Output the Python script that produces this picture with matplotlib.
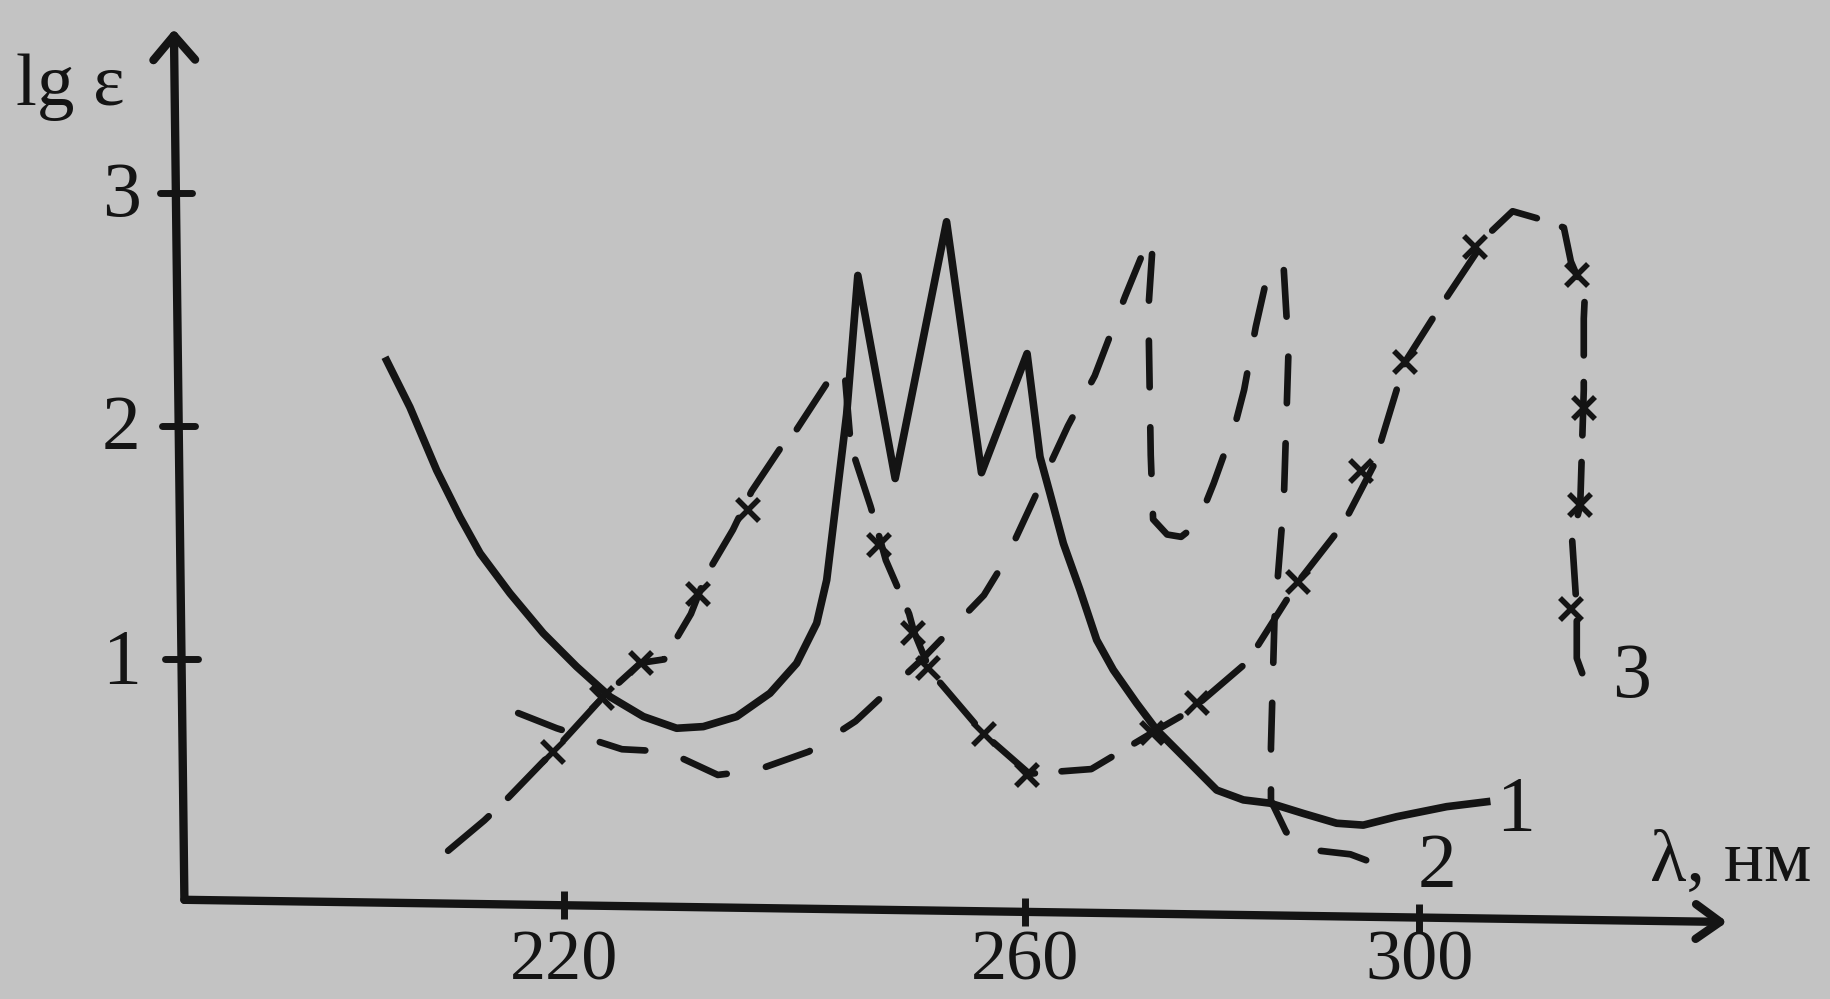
import numpy as np
import matplotlib.pyplot as plt

# кривая 1 (сплошная линия)
wl1 = [204.64, 206.66, 208.98, 211.0, 212.74, 215.34, 218.23, 221.12, 224.02, 226.91, 229.8, 232.11,
       235.01, 237.9, 240.21, 241.95, 242.82, 243.69, 244.55, 245.52,
       248.76, 253.22, 256.25, 260.24, 261.55, 262.57, 263.92, 265.61, 267.3, 268.98, 271.35, 273.38,
       276.43, 279.47, 282.17, 284.88, 288.25, 291.63, 294.33, 297.72, 302.78, 306.84]
lg1 = [2.28, 2.08, 1.81, 1.61, 1.455, 1.283, 1.112, 0.969, 0.84, 0.755, 0.705, 0.712,
       0.755, 0.855, 0.983, 1.155, 1.34, 1.697, 2.05, 2.645,
       1.775, 2.875, 1.80, 2.31, 1.868, 1.71, 1.497, 1.297, 1.083, 0.955, 0.812, 0.698,
       0.569, 0.44, 0.398, 0.384, 0.34, 0.298, 0.29, 0.326, 0.369, 0.39]

# кривая 2 (штриховая)
wl2 = [216.05, 219.39, 225.06, 229.01, 233.37, 236.71, 241.27, 245.32, 251.09, 256.46, 258.38, 264.38, 267.1,
       270.18, 272.07, 273.02, 272.54, 272.78, 273.02, 274.44, 275.86, 277.51, 279.17, 281.42, 282.25, 283.43,
       284.5, 285.33, 286.27, 286.75, 286.27, 285.33, 284.97, 284.97, 286.51, 288.88, 293.02, 296.8]
lg2 = [0.77, 0.705, 0.615, 0.605, 0.505, 0.525, 0.605, 0.735, 1.0, 1.275, 1.43, 2.0, 2.215,
       2.555, 2.75, 2.805, 2.50, 1.875, 1.60, 1.535, 1.525, 1.58, 1.755, 2.02, 2.155, 2.425,
       2.625, 2.70, 2.67, 2.325, 1.675, 1.175, 0.625, 0.395, 0.26, 0.185, 0.165, 0.105]

# кривая 3 (штрих с крестиками)
wl3 = [209.97, 213.11, 215.24, 218.08, 219.09, 223.34, 226.68, 228.71, 231.04, 232.35, 234.68, 236.3,
       238.94, 239.95, 242.99, 244.4, 244.91, 246.63, 247.44, 247.95, 249.97, 250.38, 251.8, 256.46,
       260.47, 266.75, 272.9, 276.8, 282.6, 287.69, 292.31, 295.38, 298.58, 301.66, 307.1, 309.47,
       311.95, 314.67, 315.38, 316.8, 316.69, 316.69, 316.45, 316.33, 315.5, 315.98, 315.98, 317.4]
lg3 = [0.18, 0.31, 0.41, 0.555, 0.605, 0.835, 0.985, 1.0, 1.195, 1.36, 1.555, 1.72,
       1.915, 1.965, 2.195, 2.215, 1.915, 1.655, 1.515, 1.425, 1.195, 1.12, 0.95, 0.68,
       0.51, 0.53, 0.685, 0.78, 0.99, 1.33, 1.58, 1.83, 2.275, 2.48, 2.825, 2.92,
       2.89, 2.85, 2.705, 2.565, 2.46, 2.155, 1.825, 1.66, 1.52, 1.21, 1.005, 0.84]
wl3x = [219.09, 223.34, 226.68, 231.65, 236.0, 247.34, 250.28, 251.6, 256.46, 260.24,
        272.9, 277.51, 287.69, 294.08, 298.58, 305.68, 315.98, 316.69, 316.33, 315.38]
lg3x = [0.605, 0.835, 0.985, 1.28, 1.64, 1.49, 1.115, 0.965, 0.68, 0.505,
        0.685, 0.815, 1.33, 1.805, 2.275, 2.765, 2.645, 2.075, 1.66, 1.215]

x_ticks = [220, 260, 300]
y_ticks = [1, 2, 3]
curve_labels = ['1', '2', '3']

# шкала на рисунке неравномерная: 220-260 шире, чем 260-300
anch_nm = [140, 220, 260, 300, 400]
anch_px = [-307, 483, 878, 1216, 2061]


def fwd(x):
    return np.interp(x, anch_nm, anch_px)


def inv(p):
    return np.interp(p, anch_px, anch_nm)


plt.rcParams['font.family'] = ['Liberation Serif', 'DejaVu Serif']
ink = '#141414'

fig = plt.figure(figsize=(18.3, 9.99), dpi=100, facecolor='#c3c3c3')
ax = fig.add_axes([0, 0, 1, 1])
ax.set_xscale('function', functions=(fwd, inv))
ax.set_xlim(inv(0), inv(1568))
ax.set_ylim(-0.455, 3.825)
ax.axis('off')

# оси со стрелками (скан слегка повёрнут)
x0, y0 = float(inv(158)), -0.03
ax.annotate('', xy=(float(inv(149)), 3.70), xytext=(x0, y0),
            arrowprops=dict(arrowstyle='->,head_length=0.35,head_width=0.3', lw=6,
                            color=ink, mutation_scale=50, shrinkA=0, shrinkB=0))
ax.annotate('', xy=(float(inv(1480)), -0.125), xytext=(x0, y0),
            arrowprops=dict(arrowstyle='->,head_length=0.35,head_width=0.25', lw=6,
                            color=ink, mutation_scale=50, shrinkA=0, shrinkB=0))

# деления и подписи по оси x
for t in x_ticks:
    yb = np.interp(fwd(t), [158, 1480], [y0, -0.125])
    ax.plot([t, t], [yb - 0.06, yb + 0.06], color=ink, lw=5, solid_capstyle='butt')
    ax.text(t, -0.37, str(t), ha='center', va='baseline', fontsize=52, color=ink)

# деления и подписи по оси y
for v in y_ticks:
    xa = float(inv(np.interp(v, [-0.03, 3.70], [158, 149])))
    ax.plot([float(inv(fwd(xa) - 14)), float(inv(fwd(xa) + 14))], [v, v], color=ink, lw=5,
            solid_capstyle='round')
    ax.text(181.6, v - 0.10, str(v), ha='center', va='baseline', fontsize=56, color=ink)

ax.text(172.5, 3.375, 'lg ε', ha='left', va='baseline', fontsize=54, color=ink)
ax.text(323.4, 0.05, 'λ, нм', ha='left', va='baseline', fontsize=54, color=ink)

# кривые
ax.plot(wl1, lg1, color=ink, lw=5.5, solid_joinstyle='round')
ax.plot(wl2, lg2, color=ink, lw=4.8, dashes=(7, 6), dash_capstyle='round')
ax.plot(wl3, lg3, color=ink, lw=4.8, dashes=(8, 4), dash_capstyle='round')
ax.plot(wl3x, lg3x, ls='none', marker='x', ms=16, mew=4, color=ink)

# номера кривых
ax.text(309.8, 0.27, curve_labels[0], ha='center', va='baseline', fontsize=56, color=ink)
ax.text(301.8, 0.025, curve_labels[1], ha='center', va='baseline', fontsize=56, color=ink)
ax.text(321.5, 0.84, curve_labels[2], ha='center', va='baseline', fontsize=56, color=ink)

fig.savefig('out.png', dpi=100, facecolor=fig.get_facecolor())
